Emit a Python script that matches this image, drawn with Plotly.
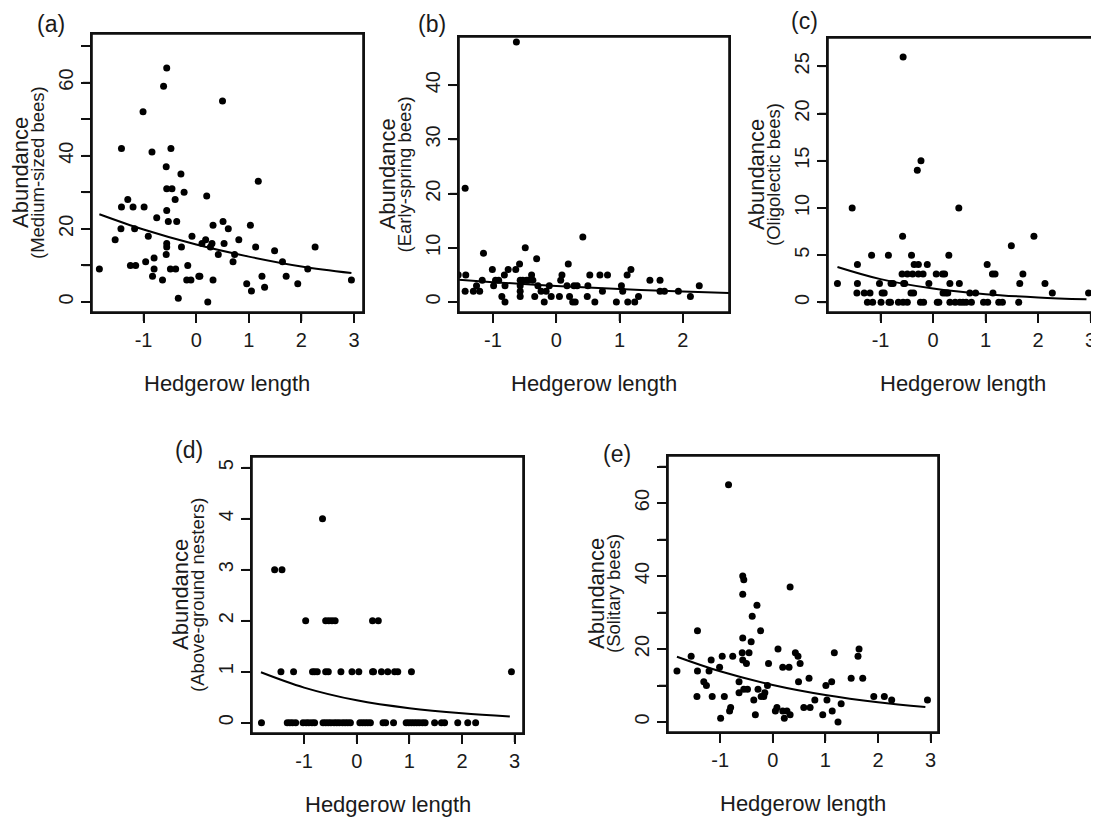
import plotly.graph_objects as go

# The page body adds an 8 px margin, so the figure is 8 px smaller and
# every reference pixel position is shifted by OFF.
OFF = 8
W, H = 1099 - OFF, 819 - OFF

# ---------------- data ----------------
a_x = [-1.84, -1.54, -1.42, -1.42, -1.43, -1.30, -1.25, -1.20, -1.17, -1.15,
       -1.01, -0.99, -0.96, -0.91, -0.84, -0.80, -0.80, -0.83, -0.75, -0.64,
       -0.62, -0.56, -0.57, -0.56, -0.56, -0.56, -0.56, -0.57, -0.53, -0.48,
       -0.46, -0.49, -0.40, -0.39, -0.37, -0.34, -0.29, -0.28, -0.23, -0.16,
       -0.18, -0.10, -0.08, 0.05, 0.07, 0.11, 0.18, 0.20, 0.22, 0.27,
       0.30, 0.32, 0.32, 0.42, 0.51, 0.50, 0.53, 0.61, 0.70, 0.73,
       0.81, 0.96, 1.03, 1.05, 1.13, 1.18, 1.25, 1.30, 1.49, 1.64,
       1.71, 1.93, 2.12, 2.26, 2.95]
a_y = [9, 17, 42, 26, 20, 28, 10, 26, 20, 10,
       52, 26, 11, 18, 41, 12, 9, 7, 23, 6,
       59, 64, 37, 31, 25, 16, 15, 13, 22, 42,
       31, 9, 28, 9, 22, 1, 35, 15, 30, 10,
       6, 6, 18, 7, 7, 16, 17, 29, 0, 15,
       16, 6, 21, 13, 22, 55, 16, 20, 11, 13,
       17, 5, 21, 3, 15, 33, 7, 4, 14, 11,
       7, 5, 9, 15, 6]
a_fit_x = [-1.84, -1.0, 0.0, 1.0, 2.0, 2.95]
a_fit_y = [24.0, 19.8, 15.7, 12.4, 9.7, 7.9]

b_x = [-1.55, -1.43, -1.44, -1.44, -1.31, -1.26, -1.21, -1.17, -1.15, -1.01,
       -0.99, -0.96, -0.91, -0.86, -0.82, -0.81, -0.81, -0.76, -0.64, -0.63,
       -0.58, -0.57, -0.57, -0.57, -0.57, -0.53, -0.49, -0.47, -0.44, -0.39,
       -0.37, -0.34, -0.31, -0.29, -0.24, -0.19, -0.16, -0.11, -0.08, 0.05,
       0.07, 0.09, 0.17, 0.19, 0.21, 0.26, 0.28, 0.30, 0.33, 0.42,
       0.50, 0.49, 0.53, 0.61, 0.69, 0.73, 0.81, 0.95, 1.03, 1.05,
       1.12, 1.18, 1.13, 1.24, 1.30, 1.48, 1.64, 1.64, 1.71, 1.93,
       2.12, 2.26]
b_y = [5, 5, 21, 2, 2, 3, 2, 4, 9, 6,
       3, 4, 4, 1, 5, 3, 0, 6, 6, 48,
       7, 4, 3, 2, 1, 4, 10, 4, 4, 5,
       4, 1, 8, 3, 2, 0, 2, 3, 1, 1,
       4, 5, 3, 7, 1, 0, 3, 0, 3, 12,
       3, 1, 5, 0, 5, 2, 5, 0, 3, 2,
       5, 6, 0, 0, 1, 4, 4, 2, 2, 2,
       1, 3]
b_fit_x = [-1.84, -1.0, 0.0, 1.0, 2.0, 2.95]
b_fit_y = [4.37, 3.67, 2.96, 2.40, 1.94, 1.58]

c_x = [-1.82, -1.54, -1.44, -1.44, -1.45, -1.31, -1.25, -1.20, -1.17, -1.15,
       -1.02, -0.99, -0.97, -0.93, -0.85, -0.84, -0.81, -0.80, -0.76, -0.66,
       -0.58, -0.57, -0.59, -0.56, -0.54, -0.57, -0.49, -0.49, -0.42, -0.41,
       -0.39, -0.37, -0.36, -0.30, -0.28, -0.28, -0.23, -0.24, -0.19, -0.18,
       -0.11, -0.08, 0.06, 0.08, 0.11, 0.18, 0.19, 0.22, 0.24, 0.28,
       0.30, 0.32, 0.32, 0.42, 0.49, 0.50, 0.51, 0.57, 0.63, 0.70,
       0.73, 0.81, 0.96, 1.03, 1.04, 1.13, 1.14, 1.18, 1.25, 1.32,
       1.49, 1.63, 1.65, 1.71, 1.92, 2.13, 2.27, 2.96]
c_y = [2, 10, 4, 2, 1, 1, 0, 1, 5, 0,
       2, 0, 1, 1, 5, 0, 0, 2, 2, 0,
       7, 26, 3, 2, 2, 0, 0, 3, 1, 5,
       3, 1, 4, 14, 4, 3, 15, 0, 3, 0,
       4, 2, 3, 0, 0, 3, 1, 3, 1, 1,
       5, 2, 0, 0, 10, 2, 0, 0, 0, 1,
       0, 1, 0, 4, 0, 3, 1, 3, 0, 0,
       6, 0, 2, 3, 7, 2, 1, 1]
c_fit_x = [-1.82, -1.0, 0.0, 1.0, 2.0, 2.92]
c_fit_y = [3.75, 2.46, 1.46, 0.87, 0.52, 0.32]

d_x = [-1.81, -1.32, -1.27, -1.22, -1.16, -1.02, -0.96, -0.91, -0.85, -0.80,
       -0.64, -0.59, -0.54, -0.49, -0.43, -0.38, -0.33, -0.27, -0.22, -0.17,
       -0.12, 0.06, 0.11, 0.16, 0.21, 0.26, 0.50, 0.55, 0.70, 0.94,
       0.99, 1.04, 1.09, 1.14, 1.19, 1.25, 1.30, 1.48, 1.61, 1.67,
       1.92, 2.11, 2.26,
       -1.44, -1.20, -0.84, -0.80, -0.75, -0.59, -0.54, -0.30, -0.09, 0.04,
       0.30, 0.32, 0.47, 0.59, 0.72, 0.78, 1.04, 2.94,
       -0.97, -0.59, -0.53, -0.47, -0.41, 0.30, 0.41,
       -1.56, -1.42,
       -0.65]
d_y = [0, 0, 0, 0, 0, 0, 0, 0, 0, 0,
       0, 0, 0, 0, 0, 0, 0, 0, 0, 0,
       0, 0, 0, 0, 0, 0, 0, 0, 0, 0,
       0, 0, 0, 0, 0, 0, 0, 0, 0, 0,
       0, 0, 0,
       1, 1, 1, 1, 1, 1, 1, 1, 1, 1,
       1, 1, 1, 1, 1, 1, 1, 1,
       2, 2, 2, 2, 2, 2, 2,
       3, 3,
       4]
d_fit_x = [-1.82, -1.0, 0.0, 1.0, 2.0, 2.91]
d_fit_y = [0.99, 0.69, 0.44, 0.285, 0.185, 0.124]

e_x = [-1.82, -1.55, -1.43, -1.43, -1.44, -1.31, -1.26, -1.21, -1.17, -1.15,
       -1.01, -0.99, -0.96, -0.92, -0.84, -0.82, -0.80, -0.76, -0.64, -0.64,
       -0.57, -0.55, -0.57, -0.57, -0.58, -0.57, -0.55, -0.50, -0.48, -0.45,
       -0.41, -0.39, -0.36, -0.33, -0.30, -0.28, -0.23, -0.22, -0.17, -0.15,
       -0.10, -0.08, 0.05, 0.08, 0.10, 0.19, 0.19, 0.22, 0.27, 0.31,
       0.33, 0.33, 0.43, 0.48, 0.49, 0.52, 0.59, 0.69, 0.71, 0.80,
       0.95, 1.01, 1.03, 1.12, 1.13, 1.17, 1.24, 1.30, 1.49, 1.62,
       1.64, 1.71, 1.92, 2.12, 2.26, 2.94]
e_y = [14, 18, 25, 14, 7, 11, 10, 14, 17, 7,
       15, 1, 18, 7, 65, 3, 4, 18, 11, 8,
       40, 39, 35, 23, 19, 17, 9, 16, 9, 19,
       22, 29, 6, 2, 32, 9, 25, 7, 7, 8,
       10, 16, 3, 4, 20, 15, 3, 1, 3, 15,
       37, 2, 19, 18, 11, 16, 4, 12, 4, 6,
       2, 10, 6, 11, 3, 19, 0, 5, 12, 18,
       20, 12, 7, 7, 6, 6]
e_fit_x = [-1.82, -1.0, 0.0, 1.0, 2.0, 2.90]
e_fit_y = [17.9, 13.9, 10.15, 7.4, 5.4, 4.1]

panel_labels = ["(a)", "(b)", "(c)", "(d)", "(e)"]
subtitles = ["(Medium-sized bees)", "(Early-spring bees)", "(Oligolectic bees)",
             "(Above-ground nesters)", "(Solitary bees)"]
x_title = "Hedgerow length"
y_title = "Abundance"

x_ticks = [-1, 0, 1, 2, 3]
y_tickvals = [[0, 10, 20, 30, 40, 50, 60, 70],
              [0, 10, 20, 30, 40],
              [0, 5, 10, 15, 20, 25],
              [0, 1, 2, 3, 4, 5],
              [0, 10, 20, 30, 40, 50, 60, 70]]
y_ticktext = [["0", "", "20", "", "40", "", "60", ""],
              ["0", "10", "20", "30", "40"],
              ["0", "5", "10", "15", "20", "25"],
              ["0", "1", "2", "3", "4", "5"],
              ["0", "", "20", "", "40", "", "60", ""]]

# ---------------- layout (pixel boxes in reference coordinates) ----------------
boxes = [  # left, right, top, bottom
    (92, 363, 34, 312),
    (459, 729, 37, 312),
    (828, 1097.5, 38, 312),
    (252, 523, 457, 733),
    (668, 938, 456, 732),
]
x_ranges = [[-1.98, 3.17], [-1.537, 2.73], [-2.0, 3.13], [-1.99, 3.16], [-1.99, 3.14]]
y_ranges = [[-2.75, 73.3], [-1.84, 48.9], [-1.02, 28.0], [-0.2, 5.21], [-2.74, 72.9]]
label_pos = [(51, 24), (432, 24), (804, 21), (189, 450), (617, 454)]
TICK_LEN = 9

FONT = "Liberation Sans, Arial, Helvetica, sans-serif"
INK = "#1a1a1a"
LINE = "#111111"


def px(x):
    return (x - OFF) / W


def py(y):
    return 1 - (y - OFF) / H


data_sets = [(a_x, a_y, a_fit_x, a_fit_y), (b_x, b_y, b_fit_x, b_fit_y),
             (c_x, c_y, c_fit_x, c_fit_y), (d_x, d_y, d_fit_x, d_fit_y),
             (e_x, e_y, e_fit_x, e_fit_y)]

fig = go.Figure()
annotations = []
shapes = []
layout = dict(width=W, height=H, margin=dict(l=0, r=0, t=0, b=0),
              paper_bgcolor="white", plot_bgcolor="rgba(0,0,0,0)", showlegend=False,
              font=dict(family=FONT, color=INK))

for i, (xs, ys, fx, fy) in enumerate(data_sets):
    n = "" if i == 0 else str(i + 1)
    xa, ya = "x" + n, "y" + n
    fig.add_trace(go.Scatter(x=xs, y=ys, mode="markers", xaxis=xa, yaxis=ya,
                             marker=dict(color="black", size=7), hoverinfo="skip"))
    fig.add_trace(go.Scatter(x=fx, y=fy, mode="lines", xaxis=xa, yaxis=ya,
                             line=dict(color="black", width=2, shape="spline"),
                             hoverinfo="skip"))
    L, R, T, B = boxes[i]
    pw, ph = R - L, B - T
    layout["xaxis" + n] = dict(
        domain=[px(L), min(px(R), 1.0)], range=x_ranges[i], anchor=ya,
        tickvals=x_ticks, ticktext=[str(v) for v in x_ticks],
        ticks="outside", ticklen=TICK_LEN, tickwidth=1.5, tickcolor=LINE,
        showline=True, mirror=True, linecolor=LINE, linewidth=1.5,
        showgrid=False, zeroline=False, tickfont=dict(size=20, color=INK))
    layout["yaxis" + n] = dict(
        domain=[py(B), py(T)], range=y_ranges[i], anchor=xa,
        tickvals=y_tickvals[i], ticktext=y_ticktext[i], tickangle=-90,
        ticks="outside", ticklen=TICK_LEN, tickwidth=1.5, tickcolor=LINE,
        showline=True, mirror=True, linecolor=LINE, linewidth=1.5,
        showgrid=False, zeroline=False, tickfont=dict(size=20, color=INK))
    # plot frame (R's box())
    shapes.append(dict(type="rect", xref=xa + " domain", yref=ya + " domain",
                       x0=0, x1=1, y0=0, y1=1, line=dict(color=LINE, width=1.6),
                       fillcolor="rgba(0,0,0,0)", layer="above"))
    # tick marks, placed on the axes' own scales
    lo, hi = x_ranges[i]
    for v in x_ticks:
        if lo <= v <= hi:
            shapes.append(dict(type="line", xref=xa, yref=ya + " domain",
                               x0=v, x1=v, y0=0, y1=-TICK_LEN / ph,
                               line=dict(color=LINE, width=1.6), layer="above"))
    for v in y_tickvals[i]:
        shapes.append(dict(type="line", xref=xa + " domain", yref=ya,
                           x0=0, x1=-TICK_LEN / pw, y0=v, y1=v,
                           line=dict(color=LINE, width=1.6), layer="above"))
    cy = (T + B) / 2
    annotations.append(dict(text=y_title, x=px(L - 72), y=py(cy),
                            xref="paper", yref="paper", textangle=-90,
                            showarrow=False, font=dict(size=22, color=INK),
                            xanchor="center", yanchor="middle"))
    annotations.append(dict(text=subtitles[i], x=px(L - 55), y=py(cy),
                            xref="paper", yref="paper", textangle=-90,
                            showarrow=False, font=dict(size=18.5, color=INK),
                            xanchor="center", yanchor="middle"))
    annotations.append(dict(text=x_title, x=px((L + R) / 2), y=py(B + 71),
                            xref="paper", yref="paper", showarrow=False,
                            font=dict(size=22, color=INK),
                            xanchor="center", yanchor="middle"))
    lx, ly = label_pos[i]
    annotations.append(dict(text=panel_labels[i], x=px(lx), y=py(ly),
                            xref="paper", yref="paper", showarrow=False,
                            font=dict(size=23, color=INK),
                            xanchor="center", yanchor="middle"))

layout["annotations"] = annotations
layout["shapes"] = shapes
fig.update_layout(**layout)
fig.write_html("out.html")
